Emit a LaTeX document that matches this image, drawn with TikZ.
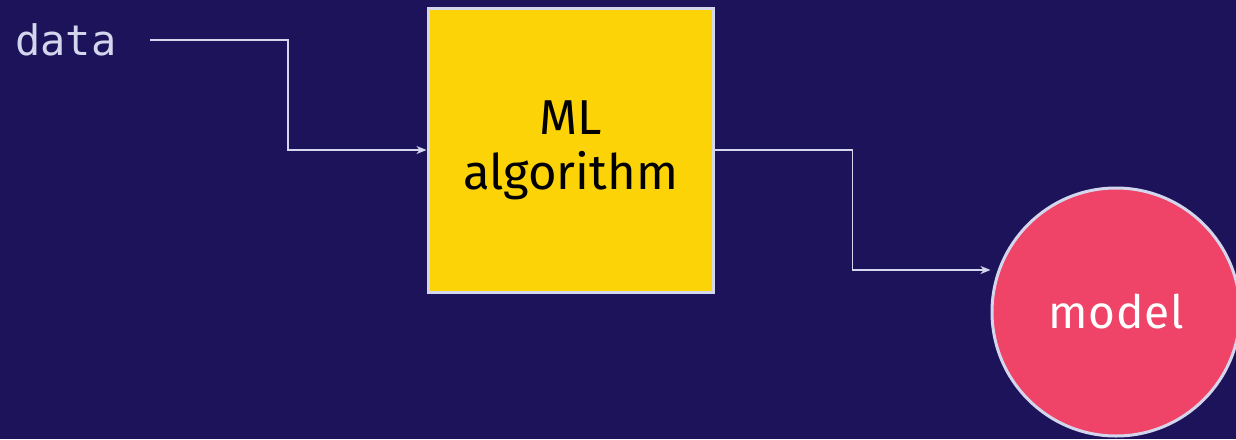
\documentclass[tikz,border=0pt]{standalone}
\usepackage{fontspec}
\setmainfont{Fira Sans}
\newfontfamily\codefont{DejaVu Sans Mono}
\usetikzlibrary{arrows.meta,calc}
\definecolor{bgnavy}{HTML}{1D135A}
\definecolor{edgelav}{HTML}{D3D6EC}
\definecolor{algoyellow}{HTML}{FCD307}
\definecolor{modelpink}{HTML}{EF4468}
\tikzset{
  conn/.style={draw=edgelav, line width=1.6pt,
    -{Stealth[length=10pt,width=8pt,inset=3pt]}},
  algobox/.style={rectangle, draw=edgelav, line width=3pt, fill=algoyellow,
    minimum width=285pt, minimum height=284pt, inner sep=0pt,
    align=center, font=\fontsize{49}{55}\selectfont, text=black},
  modelnode/.style={circle, draw=edgelav, line width=3pt, fill=modelpink,
    minimum size=248pt, inner sep=0pt,
    font=\fontsize{46}{50}\selectfont, text=white},
  label/.style={inner sep=0pt, text=edgelav,
    font=\codefont\fontsize{42}{46}\selectfont}
}
\begin{document}
\begin{tikzpicture}[x=1pt, y=-1pt]
  \fill[bgnavy] (0,0) rectangle (1236,439);
  \useasboundingbox (0,0) rectangle (1236,439);

  \node[label, anchor=base west] (data) at (15,55) {data};
  \coordinate (dstart) at (150,40);

  \node[algobox] (algo) at (570.5,150) {ML\\algorithm};

  \begin{scope}
    \clip (0,0) rectangle (1236,439);
    \node[modelnode] (model) at (1116,312) {\addfontfeature{LetterSpace=2}model};
  \end{scope}

  \draw[conn] (dstart) -| ($(dstart)!.5!(algo.west)$) |- (algo.west);
  \draw[conn] (algo.east) -| ($(algo.east)!.5!([yshift=42pt]model.west)$)
    |- ([yshift=42pt]model.west);
\end{tikzpicture}
\end{document}
